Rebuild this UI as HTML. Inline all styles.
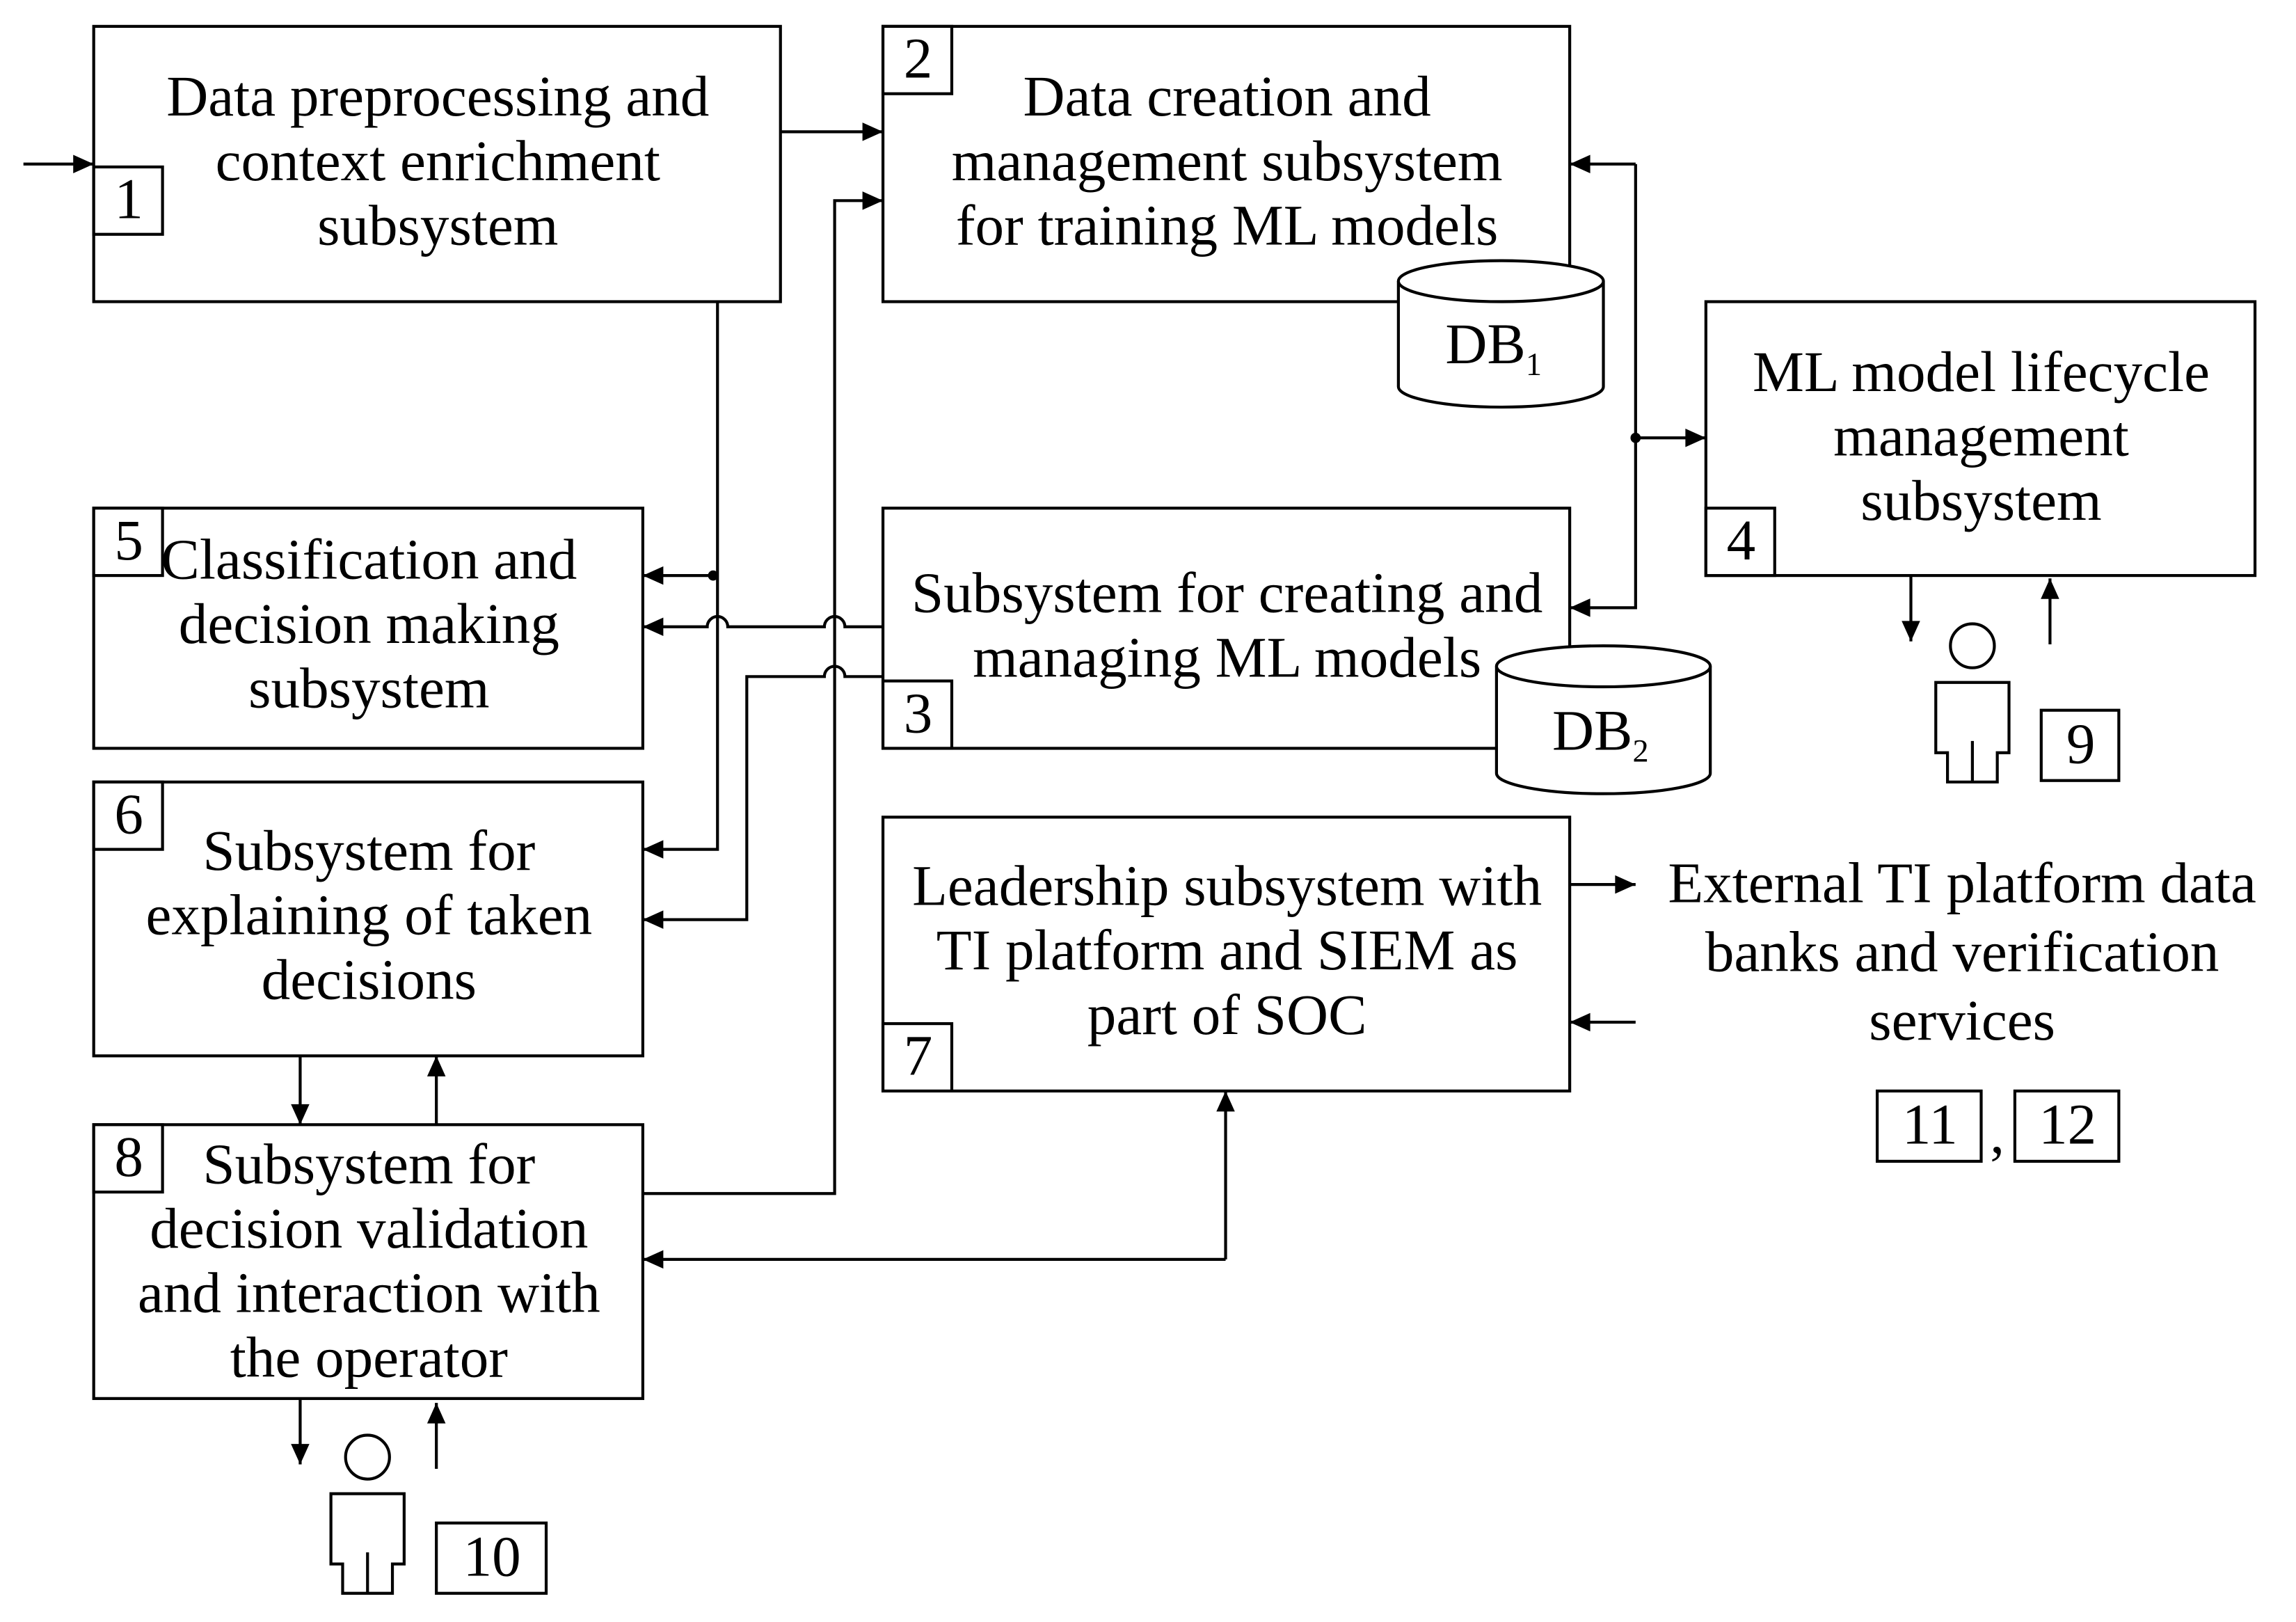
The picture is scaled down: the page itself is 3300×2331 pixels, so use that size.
<!DOCTYPE html>
<html><head><meta charset="utf-8"><style>html,body{margin:0;padding:0;background:#fff}svg{display:block}</style></head>
<body>
<svg width="3300" height="2331" viewBox="0 0 1568 1107.6" preserveAspectRatio="none" xmlns="http://www.w3.org/2000/svg">
<defs><marker id="a" viewBox="0 0 10 10" refX="10" refY="5" markerWidth="17" markerHeight="14" markerUnits="userSpaceOnUse" orient="auto"><path d="M0,0.5 L10,5 L0,9.5 z" fill="#000"/></marker></defs>
<g fill="#fff" stroke="#000" stroke-width="2">
<rect x="64" y="18" width="469" height="188"/>
<rect x="603" y="18" width="469" height="188"/>
<rect x="1165" y="206" width="375" height="187"/>
<rect x="64" y="347" width="375" height="164"/>
<rect x="603" y="347" width="469" height="164"/>
<rect x="64" y="534" width="375" height="187"/>
<rect x="603" y="558" width="469" height="187"/>
<rect x="64" y="768" width="375" height="187"/>
<rect x="64" y="114" width="47" height="46"/>
<rect x="603" y="18" width="47" height="46"/>
<rect x="1165" y="347" width="47" height="46"/>
<rect x="64" y="347" width="47" height="46"/>
<rect x="603" y="465" width="47" height="46"/>
<rect x="64" y="534" width="47" height="46"/>
<rect x="603" y="699" width="47" height="46"/>
<rect x="64" y="768" width="47" height="46"/>
<rect x="298" y="1040" width="75" height="48"/>
<rect x="1394" y="485" width="53" height="48"/>
<rect x="1282" y="745" width="71" height="48"/>
<rect x="1376" y="745" width="71" height="48"/>
<path d="M955,192 V264 A70,14 0 0 0 1095,264 V192"/>
<ellipse cx="1025" cy="192" rx="70" ry="14"/>
<path d="M1022,455 V528 A73,14 0 0 0 1168,528 V455"/>
<ellipse cx="1095" cy="455" rx="73" ry="14"/>
<circle cx="251" cy="995" r="15"/>
<path d="M226,1020 h50 v48 h-8 v20 h-34 v-20 h-8 z M251,1060 v28"/>
<circle cx="1347" cy="441" r="15"/>
<path d="M1322,466 h50 v48 h-8 v20 h-34 v-20 h-8 z M1347,506 v28"/>
</g>
<g fill="none" stroke="#000" stroke-width="2">
<path d="M16,112 H64" marker-end="url(#a)"/>
<path d="M533,90 H603" marker-end="url(#a)"/>
<path d="M490,206 V580 H439" marker-end="url(#a)"/>
<path d="M490,393 H439" marker-end="url(#a)"/>
<path d="M603,428 H577 A7,7 0 0 0 563,428 H497 A7,7 0 0 0 483,428 H439" marker-end="url(#a)"/>
<path d="M603,462 H577 A7,7 0 0 0 563,462 H510 V628 H439" marker-end="url(#a)"/>
<path d="M439,815 H570 V137 H603" marker-end="url(#a)"/>
<path d="M837,860 H439" marker-end="url(#a)"/>
<path d="M837,860 V745" marker-end="url(#a)"/>
<path d="M1117,112 H1072" marker-end="url(#a)"/>
<path d="M1117,112 V415 H1072" marker-end="url(#a)"/>
<path d="M1117,299 H1165" marker-end="url(#a)"/>
<path d="M205,721 V768" marker-end="url(#a)"/>
<path d="M298,768 V721" marker-end="url(#a)"/>
<path d="M205,955 V1000" marker-end="url(#a)"/>
<path d="M298,1003 V958" marker-end="url(#a)"/>
<path d="M1305,393 V438" marker-end="url(#a)"/>
<path d="M1400,440 V395" marker-end="url(#a)"/>
<path d="M1072,604 H1117" marker-end="url(#a)"/>
<path d="M1117,698 H1072" marker-end="url(#a)"/>
</g>
<circle cx="487" cy="393" r="3.5"/><circle cx="1117" cy="299" r="3.5"/>
<g font-family="'Liberation Serif',serif" font-size="39.5" text-anchor="middle" fill="#000">
<text x="299" y="79">Data preprocessing and</text>
<text x="299" y="123">context enrichment</text>
<text x="299" y="167">subsystem</text>
<text x="838" y="79">Data creation and</text>
<text x="838" y="123">management subsystem</text>
<text x="838" y="167">for training ML models</text>
<text x="1353" y="267">ML model lifecycle</text>
<text x="1353" y="311">management</text>
<text x="1353" y="355">subsystem</text>
<text x="252" y="395">Classification and</text>
<text x="252" y="439">decision making</text>
<text x="252" y="483">subsystem</text>
<text x="838" y="418">Subsystem for creating and</text>
<text x="838" y="462">managing ML models</text>
<text x="252" y="594">Subsystem for</text>
<text x="252" y="638">explaining of taken</text>
<text x="252" y="682">decisions</text>
<text x="838" y="618">Leadership subsystem with</text>
<text x="838" y="662">TI platform and SIEM as</text>
<text x="838" y="706">part of SOC</text>
<text x="252" y="808">Subsystem for</text>
<text x="252" y="852">decision validation</text>
<text x="252" y="896">and interaction with</text>
<text x="252" y="940">the operator</text>
<text x="1340" y="616">External TI platform data</text>
<text x="1340" y="663">banks and verification</text>
<text x="1340" y="710">services</text>
<text x="1020" y="248">DB<tspan font-size="22" dy="8">1</tspan></text>
<text x="1093" y="512">DB<tspan font-size="22" dy="8">2</tspan></text>
<text x="88" y="149">1</text><text x="627" y="53">2</text><text x="1189" y="382">4</text>
<text x="88" y="382">5</text><text x="627" y="500">3</text><text x="88" y="569">6</text>
<text x="627" y="734">7</text><text x="88" y="803">8</text>
<text x="336" y="1076">10</text><text x="1421" y="521">9</text>
<text x="1318" y="781">11</text><text x="1364" y="787">,</text><text x="1412" y="781">12</text>
</g>
</svg>
</body></html>
